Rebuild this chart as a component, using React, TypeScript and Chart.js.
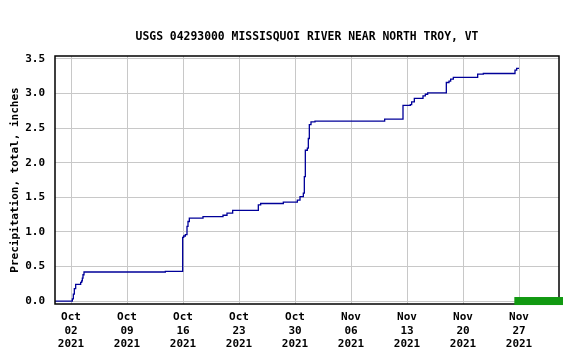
import React, { useEffect, useRef } from 'react';
import { Chart, registerables } from 'chart.js';

Chart.register(...registerables);

const chartTitle = 'USGS 04293000 MISSISQUOI RIVER NEAR NORTH TROY, VT';
const yAxisTitle = 'Precipitation, total, inches';

// Cumulative precipitation readings (time of change, new total in inches)
const readingTimes = [
  '2021-09-30 00:00', '2021-10-02 00:00', '2021-10-02 04:00', '2021-10-02 07:00',
  '2021-10-02 10:00', '2021-10-02 14:00', '2021-10-03 00:00', '2021-10-03 05:00',
  '2021-10-03 08:00', '2021-10-03 10:00', '2021-10-03 12:00', '2021-10-03 15:00',
  '2021-10-13 19:00', '2021-10-15 23:00', '2021-10-16 02:00', '2021-10-16 07:00',
  '2021-10-16 12:00', '2021-10-16 15:00', '2021-10-16 19:00', '2021-10-18 12:00',
  '2021-10-21 00:00', '2021-10-21 12:00', '2021-10-22 05:00', '2021-10-25 10:00',
  '2021-10-25 17:00', '2021-10-28 13:00', '2021-10-30 07:00', '2021-10-30 15:00',
  '2021-10-31 01:00', '2021-10-31 04:00', '2021-10-31 07:00', '2021-10-31 13:00',
  '2021-10-31 16:00', '2021-10-31 19:00', '2021-11-01 00:00', '2021-11-01 12:00',
  '2021-11-10 05:00', '2021-11-12 12:00', '2021-11-13 10:00', '2021-11-13 14:00',
  '2021-11-13 22:00', '2021-11-15 00:00', '2021-11-15 07:00', '2021-11-15 14:00',
  '2021-11-17 22:00', '2021-11-18 06:00', '2021-11-18 11:00', '2021-11-18 19:00',
  '2021-11-21 20:00', '2021-11-22 13:00', '2021-11-26 12:00', '2021-11-26 17:00',
  '2021-11-27 00:00',
];
const precipTotals = [
  0.0, 0.0, 0.03, 0.1,
  0.18, 0.24, 0.24, 0.27,
  0.29, 0.33, 0.38, 0.42,
  0.43, 0.92, 0.94, 0.96,
  1.08, 1.15, 1.2, 1.22,
  1.24, 1.27, 1.31, 1.39,
  1.41, 1.43, 1.46, 1.51,
  1.56, 1.8, 2.18, 2.21,
  2.35, 2.55, 2.59, 2.6,
  2.63, 2.83, 2.84, 2.88,
  2.93, 2.965, 2.99, 3.01,
  3.16, 3.18, 3.21, 3.235,
  3.28, 3.29, 3.34, 3.365,
  3.365,
];

const xStart = '2021-09-30 00:00';
const xEnd = '2021-12-02 00:00';
const xTickDates = [
  '2021-10-02 00:00', '2021-10-09 00:00', '2021-10-16 00:00', '2021-10-23 00:00',
  '2021-10-30 00:00', '2021-11-06 00:00', '2021-11-13 00:00', '2021-11-20 00:00',
  '2021-11-27 00:00',
];
const yTicks = [0, 0.5, 1.0, 1.5, 2.0, 2.5, 3.0, 3.5];
const yMin = -0.043;
const yMax = 3.543;

// green status bar along the bottom right
const statusBarStart = '2021-11-26 10:00';
const statusBarEnd = '2021-12-02 12:00';
const statusBarLow = -0.058;
const statusBarHigh = 0.058;

const monthNames = ['Jan', 'Feb', 'Mar', 'Apr', 'May', 'Jun', 'Jul', 'Aug', 'Sep', 'Oct', 'Nov', 'Dec'];

const toMs = (s: string) => Date.parse(s.replace(' ', 'T') + ':00Z');

const fontFamily = "'DejaVu Sans Mono', monospace";

const frameAndBarPlugin = {
  id: 'frameAndBar',
  afterDatasetsDraw(chart: any) {
    const { ctx, chartArea, scales } = chart;
    ctx.save();
    ctx.strokeStyle = '#000000';
    ctx.lineWidth = 1.5;
    ctx.strokeRect(chartArea.left, chartArea.top, chartArea.right - chartArea.left, chartArea.bottom - chartArea.top);
    const x0 = scales.x.getPixelForValue(toMs(statusBarStart));
    const x1 = scales.x.getPixelForValue(toMs(statusBarEnd));
    const y0 = scales.y.getPixelForValue(statusBarHigh);
    const y1 = scales.y.getPixelForValue(statusBarLow);
    ctx.fillStyle = '#119911';
    ctx.fillRect(x0, y0, x1 - x0, y1 - y0);
    // chart title, centred over the plot area
    ctx.fillStyle = '#000000';
    ctx.font = `bold 11.4px ${fontFamily}`;
    ctx.textAlign = 'center';
    ctx.textBaseline = 'middle';
    ctx.fillText(chartTitle, (chartArea.left + chartArea.right) / 2, chartArea.top - 19);
    ctx.restore();
  },
};

export default function App() {
  const canvasRef = useRef<HTMLCanvasElement | null>(null);

  useEffect(() => {
    if (!canvasRef.current) return;
    const data = readingTimes.map((t, i) => ({ x: toMs(t), y: precipTotals[i] }));
    const chart = new Chart(canvasRef.current, {
      type: 'line',
      data: {
        datasets: [
          {
            data,
            borderColor: '#000099',
            borderWidth: 1.3,
            pointRadius: 0,
            stepped: 'before',
            fill: false,
          },
        ],
      },
      options: {
        responsive: false,
        animation: false,
        events: [],
        layout: { padding: { left: 0, right: 20, top: 56, bottom: 0 } },
        plugins: {
          legend: { display: false },
          tooltip: { enabled: false },
          title: { display: false },
        },
        scales: {
          x: {
            type: 'linear',
            min: toMs(xStart),
            max: toMs(xEnd),
            afterBuildTicks: (scale: any) => {
              scale.ticks = xTickDates.map((d) => ({ value: toMs(d) }));
            },
            afterFit: (scale: any) => {
              scale.height = 54;
            },
            grid: { color: '#c8c8c8', lineWidth: 1, drawTicks: false },
            border: { display: false },
            ticks: {
              autoSkip: false,
              maxRotation: 0,
              minRotation: 0,
              padding: 7,
              color: '#000000',
              font: { family: fontFamily, size: 11, weight: 'bold' },
              callback: (value: any) => {
                const d = new Date(Number(value));
                const mon = monthNames[d.getUTCMonth()];
                const day = String(d.getUTCDate()).padStart(2, '0');
                return [mon, day, String(d.getUTCFullYear())];
              },
            },
          },
          y: {
            type: 'linear',
            min: yMin,
            max: yMax,
            afterBuildTicks: (scale: any) => {
              scale.ticks = yTicks.map((v) => ({ value: v }));
            },
            afterFit: (scale: any) => {
              scale.width = 55;
            },
            grid: { color: '#c8c8c8', lineWidth: 1, drawTicks: false },
            border: { display: false },
            title: {
              display: true,
              text: yAxisTitle,
              color: '#000000',
              font: { family: fontFamily, size: 11, weight: 'bold' },
              padding: { top: 8.5, bottom: 0 },
            },
            ticks: {
              padding: 10,
              color: '#000000',
              font: { family: fontFamily, size: 11, weight: 'bold' },
              callback: (value: any) => Number(value).toFixed(1),
            },
          },
        },
      },
      plugins: [frameAndBarPlugin],
    });
    return () => chart.destroy();
  }, []);

  return (
    <div style={{ position: 'fixed', left: 0, top: 0, width: 579, height: 358, background: '#ffffff' }}>
      <canvas ref={canvasRef} width={579} height={358} style={{ display: 'block' }} />
    </div>
  );
}
